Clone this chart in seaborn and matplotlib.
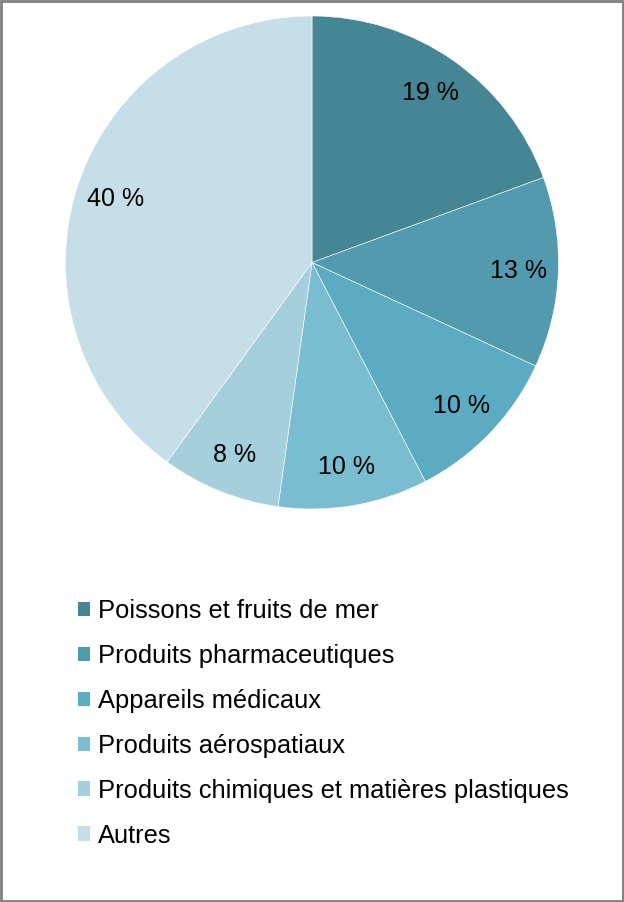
import matplotlib
matplotlib.use('Agg')
import matplotlib.pyplot as plt
import seaborn as sns
from matplotlib.patches import Patch, Rectangle

# data
categories = ['Poissons et fruits de mer', 'Produits pharmaceutiques', 'Appareils médicaux',
              'Produits aérospatiaux', 'Produits chimiques et matières plastiques', 'Autres']
shares = [19.4, 12.5, 10.5, 9.8, 7.8, 40.0]
share_labels = ['19 %', '13 %', '10 %', '10 %', '8 %', '40 %']
colors = ['#468593', '#529aae', '#5bacc3', '#7abdd1', '#a5cfdd', '#c5dee8']

sns.set_theme(style='white')
plt.rcParams['font.family'] = ['Liberation Sans', 'DejaVu Sans']
plt.rcParams['text.color'] = 'black'

fig = plt.figure(figsize=(6.24, 9.02), dpi=100)
pal = sns.color_palette(colors)

ax = fig.add_axes([65 / 624, 1 - 509 / 902, 494 / 624, 493 / 902])
wedges, texts = ax.pie(shares, colors=pal, labels=share_labels, labeldistance=0.84,
                       startangle=90, counterclock=False,
                       wedgeprops=dict(edgecolor='white', linewidth=0.4),
                       textprops=dict(fontsize=18, color='black'))
for t in texts:
    t.set_ha('center')
    t.set_va('center')
ax.set_xlim(-1, 1)
ax.set_ylim(-1, 1)
ax.set_aspect('equal')
ax.axis('off')

handles = [Patch(facecolor=c, edgecolor='none') for c in pal]
leg = fig.legend(handles, categories, loc='upper left', bbox_to_anchor=(77.5 / 624, 1 - 599 / 902),
                 frameon=False, fontsize=18.4, handlelength=0.5, handleheight=0.5,
                 handletextpad=0.3, labelspacing=0.82, borderpad=0, borderaxespad=0)
for t in leg.get_texts():
    t.set_color('black')

# grey frame round the whole chart
fig.patches.append(Rectangle((0.0015, 0.001), 0.997, 0.998, transform=fig.transFigure,
                             fill=False, edgecolor='#808080', linewidth=2))

plt.savefig('out.png', dpi=100)
plt.close()
